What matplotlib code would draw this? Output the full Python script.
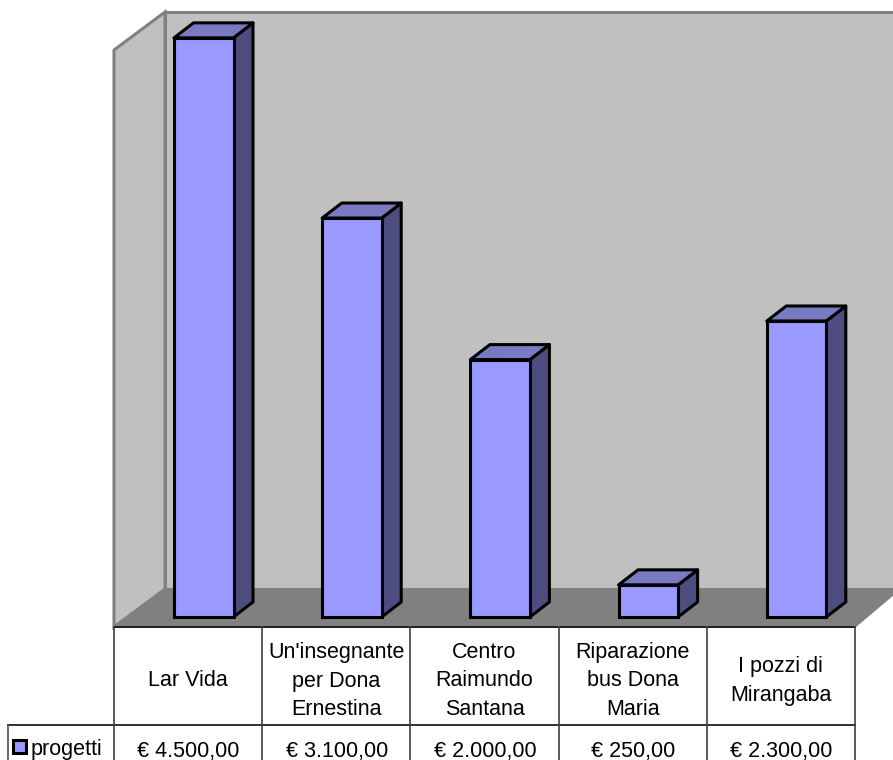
import matplotlib
matplotlib.use("Agg")
import matplotlib.pyplot as plt
from matplotlib.patches import Polygon, Rectangle

plt.rcParams['font.family'] = ['Liberation Sans', 'DejaVu Sans']

categories = ["Lar Vida", "Un'insegnante\nper Dona\nErnestina", "Centro\nRaimundo\nSantana",
              "Riparazione\nbus Dona\nMaria", "I pozzi di\nMirangaba"]
values = [4500, 3100, 2000, 250, 2300]
value_labels = ["€ 4.500,00", "€ 3.100,00", "€ 2.000,00", "€ 250,00", "€ 2.300,00"]
series_name = "progetti"

BASE_Y = 617
PX_PER_EURO = 0.1287
DX, DY = 19.5, 15
BAR_W = 59.5
LEFT, CELL_W = 114, 148.2
FONT_SIZE = 15.5

fig = plt.figure(figsize=(8.93, 7.6), dpi=100)
ax = fig.add_axes([0, 0, 1, 1])
ax.set_xlim(0, 893)
ax.set_ylim(760, 0)
ax.axis("off")

# walls and floor
wall = "#c0c0c0"
grey = "#808080"
ax.add_patch(Polygon([(165, 12), (900, 12), (900, 589), (165, 589)], fc=wall, ec=grey, lw=2.2))
ax.add_patch(Polygon([(114, 50), (165, 12), (165, 589), (114, 627)], fc=wall, ec=grey, lw=2.2))
ax.add_patch(Polygon([(114, 627), (165, 589), (900, 589), (855, 627)], fc=grey, ec=grey, lw=1))

# bars
for i, v in enumerate(values):
    x0 = LEFT + 60 + i * CELL_W
    top = BASE_Y - v * PX_PER_EURO
    ax.add_patch(Polygon([(x0 + BAR_W, top), (x0 + BAR_W + DX, top - DY),
                          (x0 + BAR_W + DX, BASE_Y - DY), (x0 + BAR_W, BASE_Y)],
                         fc="#4d4d80", ec="black", lw=2.2, joinstyle="round"))
    ax.add_patch(Polygon([(x0, top), (x0 + DX, top - DY), (x0 + BAR_W + DX, top - DY), (x0 + BAR_W, top)],
                         fc="#7a7ac2", ec="black", lw=2.2, joinstyle="round"))
    ax.bar(x0, v * PX_PER_EURO, width=BAR_W, bottom=top, align="edge",
           color="#9999ff", edgecolor="black", linewidth=2.2)

# data table
right = LEFT + 5 * CELL_W
ax.plot([LEFT, right], [627, 627], color="#202020", lw=1.4)
ax.plot([8, right], [725, 725], color="#303030", lw=1.4)
ax.plot([8, 8], [725, 760], color="#505050", lw=1.2)
for i in range(6):
    ax.plot([LEFT + i * CELL_W] * 2, [627, 760], color="#404040", lw=1.2)

for i in range(5):
    xc = LEFT + (i + 0.5) * CELL_W
    ax.text(xc, 681, categories[i], ha="center", va="center", fontsize=FONT_SIZE, linespacing=1.47)
    ax.text(xc + 0.5, 751, value_labels[i], ha="center", va="center", fontsize=FONT_SIZE)

# legend key
ax.add_patch(Rectangle((13, 740), 13, 13, fc="#9999ff", ec="black", lw=2.2))
ax.text(31, 755, series_name, ha="left", va="baseline", fontsize=FONT_SIZE)

fig.savefig("out.png", dpi=100)
